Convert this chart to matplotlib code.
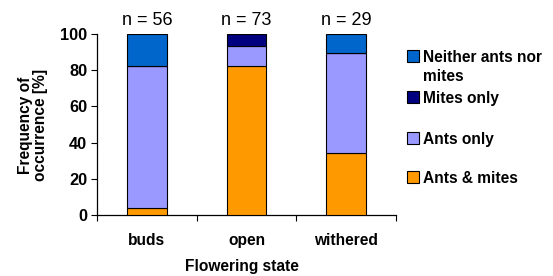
import matplotlib
matplotlib.use("Agg")
import matplotlib.pyplot as plt
from matplotlib.patches import Rectangle

plt.rcParams['font.family'] = ['Liberation Sans', 'DejaVu Sans']

states = ["buds", "open", "withered"]
n_counts = [56, 73, 29]
series_names = ["Ants & mites", "Ants only", "Mites only", "Neither ants nor\nmites"]
ants_mites = [3.6, 82.2, 34.5]
ants_only = [78.6, 11.0, 55.2]
mites_only = [0.0, 6.8, 0.0]
neither = [17.9, 0.0, 10.3]
colors = ["#FF9900", "#9999FF", "#000080", "#0066CC"]

W, H = 553, 276
BF = 11.2
fig = plt.figure(figsize=(W / 100, H / 100), dpi=100)
ax = fig.add_axes([97 / W, 1 - 215 / H, (396 - 97) / W, (215 - 34) / H])

x = list(range(len(states)))
bottom = [0.0] * len(states)
for vals, c in zip([ants_mites, ants_only, mites_only, neither], colors):
    ax.bar(x, vals, width=0.4, bottom=bottom, color=c, edgecolor="black", linewidth=0.8, zorder=3)
    bottom = [b + v for b, v in zip(bottom, vals)]

ax.set_xlim(-0.5, 2.5)
ax.set_ylim(0, 100)
ax.set_yticks([0, 20, 40, 60, 80, 100])
ax.set_yticklabels(["0", "20", "40", "60", "80", "100"], fontsize=11.8, fontweight="bold")
ax.set_xticks([-0.5, 0.5, 1.5, 2.5])
ax.set_xticklabels([])
ax.set_xticks(x, minor=True)
ax.set_xticklabels(states, minor=True, fontsize=BF, fontweight="bold")
ax.tick_params(axis="x", which="minor", length=0, pad=13)
ax.tick_params(axis="x", which="major", length=4, direction="out")
ax.tick_params(axis="y", length=4, direction="out", pad=3)
for s in ["top", "right"]:
    ax.spines[s].set_visible(False)
for s in ["left", "bottom"]:
    ax.spines[s].set_linewidth(0.9)

for xi, n in zip(x, n_counts):
    ax.annotate(f"n = {n}", xy=(xi, 100), xytext=(0, 10), textcoords="offset points",
                ha="center", va="center", fontsize=13, annotation_clip=False)

fig.text(33 / W, 1 - 125 / H, "Frequency of\noccurrence [%]", rotation=90, ha="center", va="center",
         fontsize=BF, fontweight="bold", linespacing=1.0)
fig.text(241.5 / W, 1 - 266 / H, "Flowering state", ha="center", va="center", fontsize=BF, fontweight="bold")

# legend (top to bottom)
leg_y = [56, 97, 138, 177]
for name, c, yy in zip(series_names[::-1], colors[::-1], leg_y):
    fig.patches.append(Rectangle((407 / W, 1 - (yy + 6) / H), 12 / W, 12 / H, transform=fig.transFigure,
                                 facecolor=c, edgecolor="black", linewidth=0.8))
    for k, line in enumerate(name.split("\n")):
        fig.text(423 / W, 1 - (yy + 19 * k) / H, line, ha="left", va="center_baseline",
                 fontsize=BF, fontweight="bold")

fig.savefig("out.png", dpi=100)
